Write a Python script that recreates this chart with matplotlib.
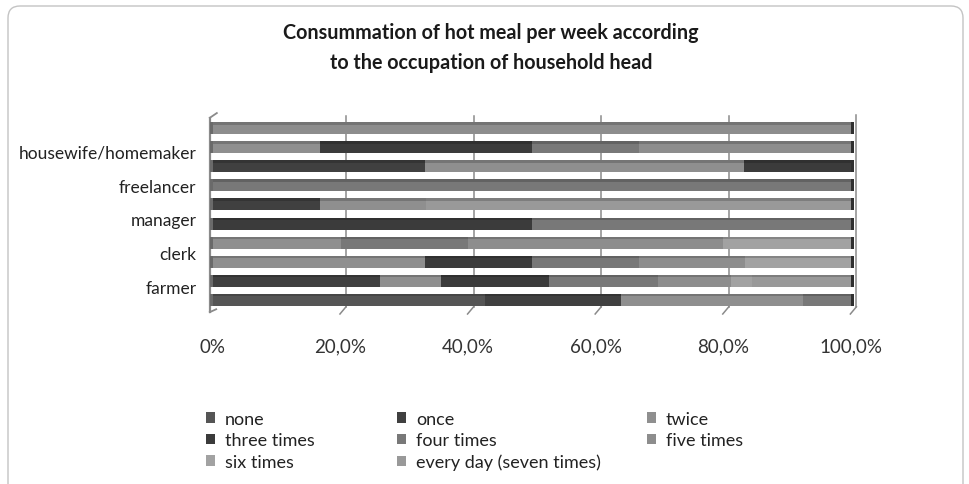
import numpy as np
import matplotlib
matplotlib.use("Agg")
import matplotlib.pyplot as plt
from matplotlib.patches import FancyBboxPatch
from matplotlib.colors import to_rgb

plt.rcParams['font.family'] = ['Lato', 'DejaVu Sans']

title = "Consummation of hot meal per week according\nto the occupation of household head"

# rows go from the bottom bar to the top bar; only some rows carry a label
row_labels = ["farmer", "clerk", "manager", "freelancer", "housewife/homemaker"]

series = ["none", "once", "twice", "three times", "four times",
          "five times", "six times", "every day (seven times)"]
colors = ["#555555", "#404040", "#8f8f8f", "#3b3b3b", "#787878",
          "#8d8d8d", "#a2a2a2", "#999999"]

none_pct = [42.6, 0, 0, 0, 0, 0, 0, 0, 0, 0]
once_pct = [21.4, 26.2, 0, 0, 0, 16.7, 0, 33.3, 0, 0]
twice_pct = [28.5, 9.5, 33.3, 20.0, 0, 16.7, 0, 50.0, 16.7, 0]
three_pct = [0, 17.0, 16.7, 0, 50.0, 0, 0, 16.7, 33.3, 0]
four_pct = [7.5, 17.0, 16.7, 20.0, 50.0, 0, 100, 0, 16.7, 0]
five_pct = [0, 11.5, 16.7, 40.0, 0, 0, 0, 0, 33.3, 100]
six_pct = [0, 3.3, 16.6, 20.0, 0, 0, 0, 0, 0, 0]
seven_pct = [0, 15.5, 0, 0, 0, 66.6, 0, 0, 0, 0]

values = [none_pct, once_pct, twice_pct, three_pct, four_pct,
          five_pct, six_pct, seven_pct]

xticks = [0, 20, 40, 60, 80, 100]
xticklabels = ["0%", "20,0%", "40,0%", "60,0%", "80,0%", "100,0%"]


def shade(c, f):
    return tuple(min(1, v * f) for v in to_rgb(c))


W, H = 970, 485
fig = plt.figure(figsize=(W / 100, H / 100), dpi=100)

# rounded outer frame
frame = FancyBboxPatch((0.08, -0.3), 9.55, 5.08, boxstyle="round,pad=0,rounding_size=0.12",
                       transform=fig.dpi_scale_trans, facecolor="none",
                       edgecolor="#c4c4c4", lw=1.0, zorder=-1)
fig.patches.append(frame)

ax = fig.add_axes([213 / W, 1 - 315 / H, 638 / W, 200 / H])
ax.set_xlim(0, 100)
ax.set_ylim(-0.75, 9.75)
ax.patch.set_visible(False)
for s in ax.spines.values():
    s.set_visible(False)

n = len(none_pct)
y = np.arange(n)
h = 0.63
left = np.zeros(n)
handles = []
for name, vals, c in zip(series, values, colors):
    vals = np.array(vals, dtype=float)
    b = ax.barh(y, vals, left=left, height=h, color=c, label=name, zorder=3, lw=0)
    # darker top face to mimic the 3D look
    ax.barh(y + h / 2 - 0.06, vals, left=left, height=0.12, color=shade(c, 0.82),
            zorder=4, lw=0)
    handles.append(b)
    left += vals

# end caps of the 3D bars
ax.barh(y, 0.45, left=100, height=h, color="#2f2f2f", zorder=4, lw=0, clip_on=False)
ax.barh(y, 0.5, left=-0.5, height=h, color="#6a6a6a", zorder=2, lw=0, clip_on=False)

# back wall grid lines with slanted floor ticks
off = 0.85
for v in [20, 40, 60, 80]:
    ax.plot([v + off, v + off], [-0.37, 9.65], color="#8a8a8a", lw=1.1, zorder=1)
    ax.plot([v + off, v - 0.1], [-0.37, -0.75], color="#8a8a8a", lw=1.1, zorder=1,
            clip_on=False)
ax.plot([100 + off, 100 + off], [-0.37, 9.7], color="#8a8a8a", lw=1.1, zorder=1, clip_on=False)
ax.plot([100 + off, 100 - 0.1], [-0.37, -0.75], color="#8a8a8a", lw=1.1, zorder=1,
        clip_on=False)
ax.plot([-0.5, -0.5], [-0.65, 9.55], color="#8a8a8a", lw=1.6, zorder=1, clip_on=False)
ax.plot([-0.5, 0.6], [9.55, 9.8], color="#8a8a8a", lw=1.3, zorder=1, clip_on=False)
ax.plot([-0.5, 0.5], [-0.65, -0.5], color="#8a8a8a", lw=1.3, zorder=1, clip_on=False)

ax.set_xticks(xticks, xticklabels)
ax.tick_params(axis="x", length=0, pad=17, labelsize=13.5, labelcolor="#333333")
ax.set_yticks(0.68 + 1.78 * np.arange(len(row_labels)), row_labels)
ax.tick_params(axis="y", length=0, pad=12, labelsize=12.5, labelcolor="#222222")

fig.text(491 / W, 1 - 23 / H, title, ha="center", va="top", fontsize=14.2,
         fontweight="bold", linespacing=1.6, color="#1a1a1a")

# legend in three columns, filled row by row
cols = [[0, 3, 6], [1, 4, 7], [2, 5]]
col_x = [206, 397, 647]
for idx, cx in zip(cols, col_x):
    leg = fig.legend([handles[i] for i in idx], [series[i] for i in idx],
                     loc="upper left", bbox_to_anchor=(cx / W, 1 - 412 / H),
                     frameon=False, fontsize=13, handlelength=0.5, handleheight=0.5,
                     handletextpad=0.55, labelspacing=0.3, borderpad=0, borderaxespad=0,
                     labelcolor="#222222")

fig.savefig("out.png", dpi=100, facecolor="white")
